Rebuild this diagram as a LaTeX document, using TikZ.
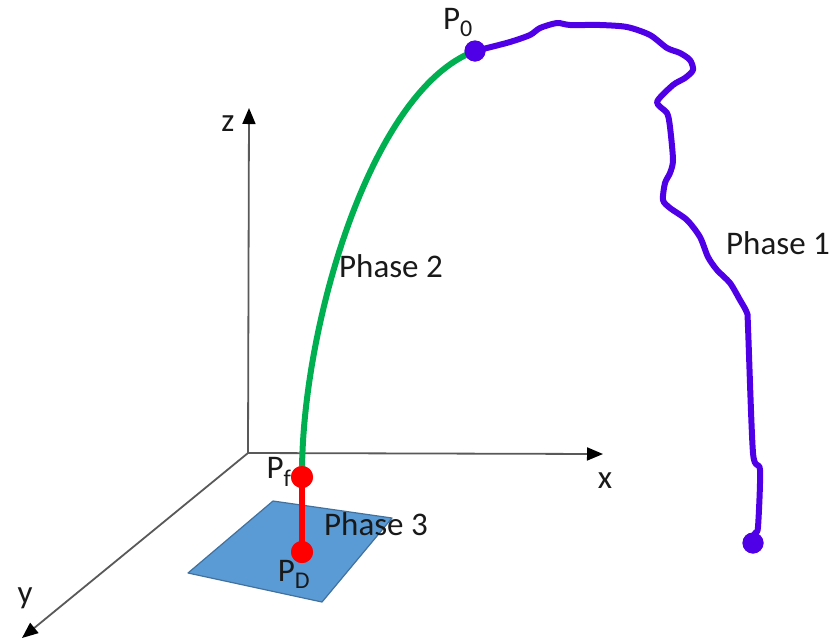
\documentclass[tikz,border=0pt]{standalone}
\usepackage{fontspec}
\setmainfont{Carlito}
\usetikzlibrary{arrows.meta}
\definecolor{grn}{RGB}{0,176,80}
\definecolor{purp}{RGB}{80,0,230}
\definecolor{planefill}{RGB}{91,155,213}
\definecolor{planeedge}{RGB}{65,113,156}
\definecolor{axcol}{RGB}{89,89,89}
\tikzset{
  axis/.style={draw=axcol, line width=1.8pt, -{Triangle[length=16pt,width=13pt,fill=black,color=black]}},
  lbl/.style={font=\fontsize{33}{38}\selectfont, inner sep=0pt, text=black!90},
  dotp/.style={circle, fill=purp, minimum size=21pt, inner sep=0pt},
  dotr/.style={circle, fill=red, minimum size=22pt, inner sep=0pt},
  pathline/.style={line width=6pt, line cap=round, line join=round},
}
\newcommand{\sub}[1]{\textsubscript{\fontsize{24}{26}\selectfont #1}}
\begin{document}
\begin{tikzpicture}[x=1pt,y=-1pt]
\useasboundingbox (0,0) rectangle (835,641);
% axes
\coordinate (O) at (248,453);
\coordinate (zt) at (249,108);
\coordinate (xt) at (603,454);
\coordinate (yt) at (22,638);
\draw[axis] (O) -- (zt);
\draw[axis] (O) -- (xt);
\draw[axis] (O) -- (yt);
\node[lbl] (zl) at (228,124) {z};
\node[lbl] (xl) at (605,481) {x};
\node[lbl] (yl) at (25,598) {y};
% plane
\coordinate (c1) at (273,501);
\coordinate (c2) at (392,518);
\coordinate (c3) at (322,602);
\coordinate (c4) at (188,573);
\draw[fill=planefill, draw=planeedge, line width=1.2pt, line join=round] (c1) -- (c2) -- (c3) -- (c4) -- cycle;
% dots
\node[dotp] (P0) at (475,51) {};
\node[dotp] (P1end) at (753,543) {};
\node[dotr] (Pf) at (302,477) {};
\node[dotr] (PD) at (302,552) {};
% phase 2 green
\draw[grn, pathline] (Pf.center) .. controls (301,330) and (370,90) .. (P0.center);
% phase 1 purple
\draw[purp, pathline] plot[smooth, tension=0.45] coordinates {(475,51) (487,48) (510,42) (530,35) (540,28) (557,23) (570,25) (600,25) (627,27) (650,35) (667,48) (680,53) (690,60) (693,70) (685,78) (673,85) (657,102) (667,113) (670,127) (673,160) (670,173) (665,183) (663,200) (670,208) (687,220) (700,237) (708,257) (717,270) (730,283) (740,300) (747,313) (748,327) (753,453) (760,470) (758,527) (755,533) (753,543)};
% phase 3 red
\draw[red, pathline] (Pf.center) -- (PD.center);
\node[dotp] at (P0) {};
\node[dotp] at (P1end) {};
\node[dotr] at (Pf) {};
\node[dotr] at (PD) {};
% labels
\node[lbl] (lP0) at (458,22) {P\sub{0}};
\node[lbl] (lPf) at (279,472) {P\sub{f}};
\node[lbl] (lPD) at (294,574) {P\sub{D}};
\node[lbl] (ph1) at (778,243) {Phase 1};
\node[lbl] (ph2) at (391,266) {Phase 2};
\node[lbl] (ph3) at (376,524) {Phase 3};
\end{tikzpicture}
\end{document}
